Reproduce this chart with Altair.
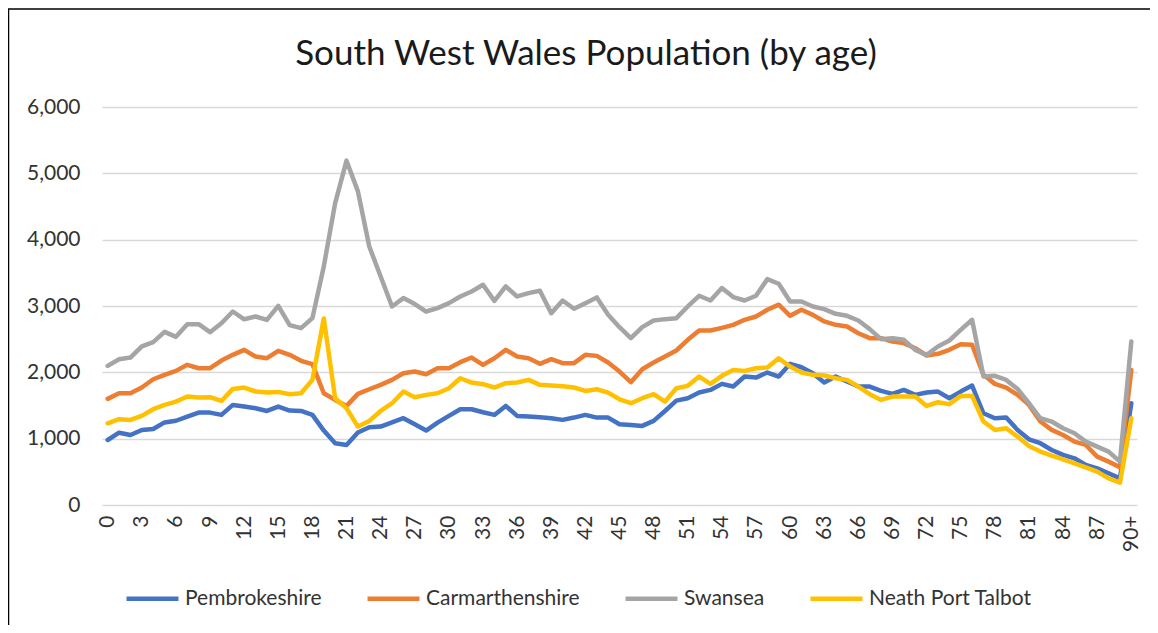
import altair as alt
import pandas as pd

ages = [str(a) for a in range(90)] + ["90+"]
tick_labels = [str(a) for a in range(0, 90, 3)] + ["90+"]

regions = ["Pembrokeshire", "Carmarthenshire", "Swansea", "Neath Port Talbot"]
colors = ["#4472C4", "#ED7D31", "#A5A5A5", "#FFC000"]
title_text = "South West Wales Population (by age)"

pembrokeshire = [980, 1090, 1055, 1130, 1145, 1245, 1270, 1333, 1393, 1393,
                 1358, 1509, 1484, 1459, 1418, 1484, 1423, 1418, 1358, 1122,
                 931, 905, 1092, 1172, 1182, 1247, 1308, 1217, 1122, 1242,
                 1343, 1444, 1444, 1398, 1358, 1494, 1343, 1333, 1323, 1308,
                 1283, 1318, 1358, 1318, 1318, 1217, 1207, 1192, 1268, 1418,
                 1574, 1610, 1695, 1735, 1826, 1786, 1937, 1921, 1997, 1937,
                 2128, 2077, 1987, 1846, 1937, 1861, 1786, 1786, 1720, 1675,
                 1735, 1660, 1695, 1710, 1610, 1710, 1801, 1383, 1308, 1318,
                 1132, 991, 931, 830, 755, 704, 604, 553, 478, 402,
                 1534]

carmarthenshire = [1600, 1685, 1685, 1771, 1896, 1962, 2022, 2113, 2062, 2062,
                   2178, 2264, 2339, 2238, 2213, 2324, 2264, 2173, 2123, 1685,
                   1584, 1494, 1675, 1745, 1811, 1886, 1987, 2012, 1972, 2062,
                   2062, 2153, 2223, 2113, 2213, 2339, 2238, 2213, 2128, 2198,
                   2138, 2138, 2264, 2248, 2148, 2012, 1851, 2047, 2148, 2238,
                   2329, 2490, 2631, 2631, 2670, 2716, 2792, 2842, 2943, 3020,
                   2852, 2943, 2867, 2767, 2716, 2691, 2590, 2515, 2515, 2465,
                   2440, 2364, 2254, 2279, 2339, 2425, 2415, 1962, 1826, 1771,
                   1660, 1509, 1258, 1132, 1056, 956, 905, 729, 654, 568,
                   2037]

swansea = [2098, 2198, 2223, 2390, 2455, 2610, 2535, 2726, 2726, 2605,
           2740, 2917, 2800, 2842, 2790, 3003, 2711, 2666, 2817, 3597,
           4552, 5191, 4728, 3898, 3445, 2993, 3119, 3030, 2917, 2968,
           3043, 3144, 3219, 3320, 3078, 3295, 3144, 3194, 3229, 2892,
           3083, 2958, 3043, 3129, 2867, 2681, 2515, 2681, 2782, 2802,
           2817, 2993, 3154, 3083, 3270, 3134, 3083, 3154, 3405, 3335,
           3068, 3068, 2993, 2953, 2882, 2852, 2782, 2651, 2500, 2515,
           2490, 2339, 2264, 2390, 2480, 2641, 2792, 1937, 1947, 1886,
           1750, 1534, 1308, 1258, 1157, 1082, 956, 880, 805, 654,
           2465]

neath_port_talbot = [1232, 1293, 1283, 1343, 1444, 1509, 1559, 1635, 1620, 1625,
                     1569, 1750, 1771, 1710, 1695, 1705, 1670, 1685, 1886, 2812,
                     1610, 1459, 1182, 1268, 1418, 1534, 1710, 1625, 1660, 1685,
                     1760, 1911, 1846, 1821, 1771, 1836, 1846, 1886, 1811, 1801,
                     1791, 1771, 1720, 1745, 1695, 1594, 1534, 1610, 1670, 1559,
                     1760, 1796, 1936, 1826, 1947, 2037, 2022, 2062, 2072, 2213,
                     2087, 1997, 1962, 1952, 1911, 1886, 1786, 1670, 1584, 1635,
                     1635, 1635, 1494, 1549, 1519, 1645, 1645, 1258, 1132, 1157,
                     1031, 890, 805, 744, 689, 629, 568, 503, 402, 337,
                     1308]

series = [pembrokeshire, carmarthenshire, swansea, neath_port_talbot]
rows = []
for name, vals in zip(regions, series):
    for a, v in zip(ages, vals):
        rows.append({"age": a, "population": v, "region": name})
df = pd.DataFrame(rows)

FONT = "Lato"
TXT = "#333333"

x_enc = alt.X("age:N", sort=ages,
              scale=alt.Scale(type="point", padding=0.5),
              axis=alt.Axis(values=tick_labels, labelAngle=270, title=None,
                            domain=False, ticks=False, grid=False,
                            labelFontSize=21, labelPadding=10,
                            labelFont=FONT, labelColor=TXT))
y_enc = alt.Y("population:Q",
              scale=alt.Scale(domain=[0, 6000]),
              axis=alt.Axis(values=[0, 1000, 2000, 3000, 4000, 5000, 6000],
                            format=",.0f", title=None, domain=False, ticks=False,
                            gridColor="#D9D9D9", gridWidth=1.5,
                            labelFontSize=21, labelPadding=22,
                            labelFont=FONT, labelColor=TXT))
color_enc = alt.Color("region:N",
                      scale=alt.Scale(domain=regions, range=colors),
                      legend=alt.Legend(title=None, orient="none",
                                        direction="horizontal", columns=4,
                                        legendX=22, legendY=463,
                                        symbolType="stroke",
                                        symbolSize=2700,
                                        symbolStrokeWidth=4.5,
                                        labelFontSize=21, labelFont=FONT,
                                        labelColor=TXT, labelOffset=4,
                                        labelLimit=400,
                                        columnPadding=36))

base = alt.Chart(df).mark_line(strokeWidth=4.5, strokeCap="round",
                               strokeJoin="round")
layers = []
for r in regions:
    layers.append(base.transform_filter(alt.datum.region == r)
                  .encode(x=x_enc, y=y_enc, color=color_enc))

one = alt.Data(values=[{}])
border = alt.Chart(one).mark_rect(
    fill="transparent", stroke="#000000", strokeWidth=1.5
).encode(x=alt.value(-93.5), x2=alt.value(1300),
         y=alt.value(-98), y2=alt.value(800))

title = alt.Chart(one).mark_text(
    text=title_text, font=FONT, fontSize=35, color="#1a1a1a",
    align="center", baseline="alphabetic"
).encode(x=alt.value(484), y=alt.value(-42))

chart = alt.layer(*layers, border, title).properties(
    width=1035, height=398,
    padding={"left": 94, "top": 99, "right": 13, "bottom": 120},
    autosize=alt.AutoSizeParams(type="none"),
).configure_view(stroke=None)

chart.save("out.html", embed_options={"renderer": "svg", "actions": False})
